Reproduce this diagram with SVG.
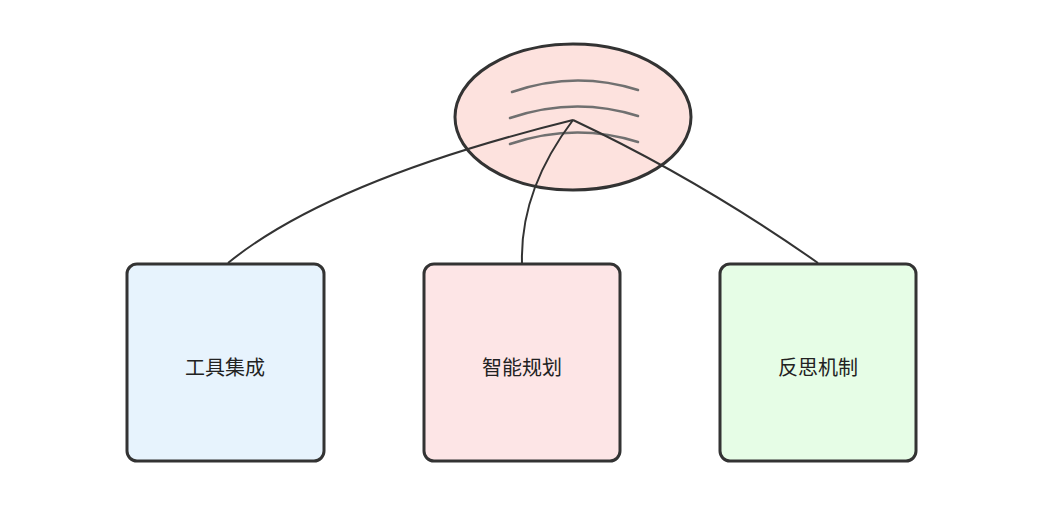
<svg xmlns="http://www.w3.org/2000/svg" width="1046" height="506" viewBox="0 0 1046 506">
<style>
.box{stroke:#333;stroke-width:3;}
.lbl{font-family:"Noto Sans CJK SC","Noto Sans",sans-serif;font-size:20px;fill:#222;text-anchor:middle;}
.con{fill:none;stroke:#333;stroke-width:2;}
.arc{fill:none;stroke:#707070;stroke-width:2.5;stroke-linecap:round;}
</style>
<rect width="1046" height="506" fill="#fff"/>
<g id="hub">
<ellipse cx="573" cy="117" rx="118" ry="73" fill="#fde2de" stroke="#333" stroke-width="3"/>
<path class="arc" d="M512 92 Q575 70 638 90"/>
<path class="arc" d="M510 118 Q575 96 638 116"/>
<path class="arc" d="M510 144 Q575 122 638 142"/>
</g>
<g id="connectors">
<path class="con" d="M573 120 Q330 180 228 263"/>
<path class="con" d="M573 120 Q520 190 522 263"/>
<path class="con" d="M573 120 Q700 180 818 263"/>
</g>
<g id="n1"><rect class="box" x="127" y="264" width="197" height="197" rx="10" fill="#e7f3fd"/><text class="lbl" x="225" y="375">工具集成</text></g>
<g id="n2"><rect class="box" x="424" y="264" width="196" height="197" rx="10" fill="#fde5e6"/><text class="lbl" x="522" y="375">智能规划</text></g>
<g id="n3"><rect class="box" x="720" y="264" width="196" height="197" rx="10" fill="#e6fde6"/><text class="lbl" x="818" y="375">反思机制</text></g>
</svg>
